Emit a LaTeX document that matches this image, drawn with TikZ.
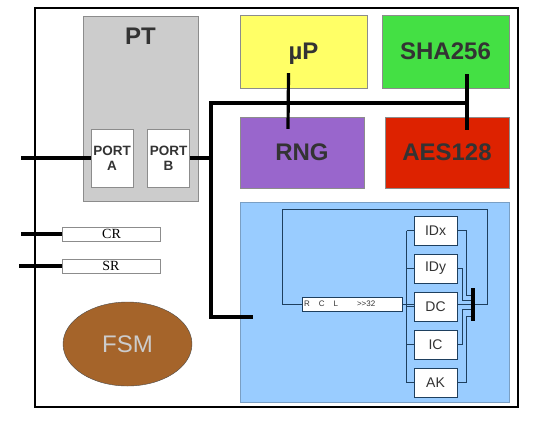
\documentclass[tikz,border=0pt]{standalone}
\usepackage{fontspec}
\setmainfont{Liberation Sans}
\newfontfamily\serifreg{Liberation Serif}
\usetikzlibrary{shapes.geometric}
\definecolor{ptgray}{HTML}{CCCCCC}
\definecolor{edgegray}{HTML}{8C8C8C}
\definecolor{txtgray}{HTML}{333333}
\definecolor{upyellow}{HTML}{FFFF66}
\definecolor{shagreen}{HTML}{44E044}
\definecolor{rngpurple}{HTML}{9966CC}
\definecolor{aesred}{HTML}{DD2200}
\definecolor{ctlblue}{HTML}{99CCFF}
\definecolor{ctledge}{HTML}{7A9FC4}
\definecolor{wirenavy}{HTML}{1E3F5E}
\definecolor{fsmbrown}{HTML}{A5642A}
\tikzset{
  title/.style={font=\fontsize{24}{24}\selectfont\bfseries, text=txtgray, inner sep=0pt},
  block/.style={title, draw=edgegray, minimum width=127pt, minimum height=73pt},
  port/.style={draw=edgegray, fill=white, minimum width=42pt, minimum height=58pt,
    inner sep=0pt, align=center, text=txtgray,
    font=\fontsize{13.5}{15}\selectfont\bfseries},
  reg/.style={draw=edgegray, fill=white, minimum width=98pt, minimum height=14pt,
    inner sep=0pt, font=\serifreg\fontsize{14}{14}\selectfont},
  cell/.style={draw=wirenavy, fill=white, minimum width=43pt, minimum height=29pt,
    inner sep=0pt, text=txtgray, font=\fontsize{14}{14}\selectfont},
  bus/.style={line width=3.2pt},
  wire/.style={draw=wirenavy, line width=0.9pt}
}
\begin{document}
\begin{tikzpicture}[x=1pt,y=-1pt]
\useasboundingbox (0,0) rectangle (543,424);
% chip outline
\draw[line width=1.6pt] (35,8) rectangle (518,407);
% pass-through block and its ports
\node[fill=ptgray, draw=edgegray, minimum width=115pt, minimum height=185pt] (pt) at (140.5,108.5) {};
\node[title, anchor=north] (ptname) at ([yshift=-12pt]pt.north) {PT};
\node[port] (porta) at (112,158) {PORT\\A};
\node[port] (portb) at (168.5,158) {PORT\\B};
% processor and crypto blocks
\node[block, fill=upyellow, text depth=0pt] (up) at (303.5,51.5) {µP};
\node[block, fill=shagreen] (sha) at (445.5,51.5) {SHA256};
\node[block, fill=rngpurple, minimum width=124pt, minimum height=71pt] (rng) at (302,152.5) {RNG};
\node[block, fill=aesred, minimum width=124pt, minimum height=71pt] (aes) at (447,152.5) {AES128};
% registers and state machine
\node[reg] (cr) at (111.5,234) {CR};
\node[reg] (sr) at (111,266) {SR};
\node[ellipse, fill=fsmbrown, draw=black!70, minimum width=129pt, minimum height=84pt,
  text=ptgray, font=\fontsize{24}{24}\selectfont] (fsm) at (127.5,344) {FSM};
% control block
\node[fill=ctlblue, draw=ctledge, minimum width=269pt, minimum height=200pt] (ctl) at (374.5,302) {};
\node[draw=wirenavy, fill=white, text width=96pt, align=left, inner xsep=2pt, inner ysep=0pt,
  minimum height=14pt, text=txtgray, font=\fontsize{8}{8}\selectfont] (rcl) at (352,304)
  {R\hspace{9pt}C\hspace{9pt}L\hspace{19pt}{>}{>}32};
\foreach \c/\t [count=\i from 0] in {idx/IDx, idy/IDy, dc/DC, ic/IC, ak/AK}
  \node[cell] (\c) at (435.5,230.5+38*\i) {\t};
\coordinate (bar) at (473,304);
\coordinate (loopR) at (487,209);
\coordinate (loopL) at (282,209);
% data paths inside the control block
\draw[wire] ([xshift=-7pt]idx.west) -- ([xshift=-7pt]ak.west);
\foreach \c in {idx,idy,dc,ic,ak}
  \draw[wire] ([xshift=-7pt]\c.west) -- (\c.west);
\draw[wire] (rcl.east) -- (rcl.east -| dc.west);
\foreach \c/\dx/\dy in {idx/9/9, idy/5/4, ic/5/-5, ak/9/-12}
  \draw[wire] (\c.east) -- ++(\dx,0) |- ([yshift=\dy pt]bar);
\draw[wire] (dc.east |- bar) -- (bar);
\draw[wire] (bar) -| (loopR) -- (loopL) |- (rcl.west);
\draw[line width=3.5pt] ([yshift=16pt]bar) -- ([yshift=-17pt]bar);
% system bus
\coordinate (busL) at (211,103);
\coordinate (busR) at (467,103);
\coordinate (busE) at (253,317);
\draw[bus] (busR) -- (busL) |- (busE);
\draw[bus] ([xshift=-15pt,yshift=15pt]up.south) -- ([xshift=-14pt,yshift=-12pt]rng.north);
\draw[bus] ([xshift=21.5pt,yshift=14pt]sha.south) -- ([xshift=20pt,yshift=-13pt]aes.north);
\draw[bus] (portb.east) -- (portb.east -| busL);
% external pins
\coordinate (pinA) at (21,158);
\coordinate (pinCR) at (21,234);
\coordinate (pinSR) at (19,266);
\draw[bus] (pinA) -- (porta.west);
\draw[bus] (pinCR) -- (cr.west);
\draw[bus] (pinSR) -- (sr.west);
\end{tikzpicture}
\end{document}
